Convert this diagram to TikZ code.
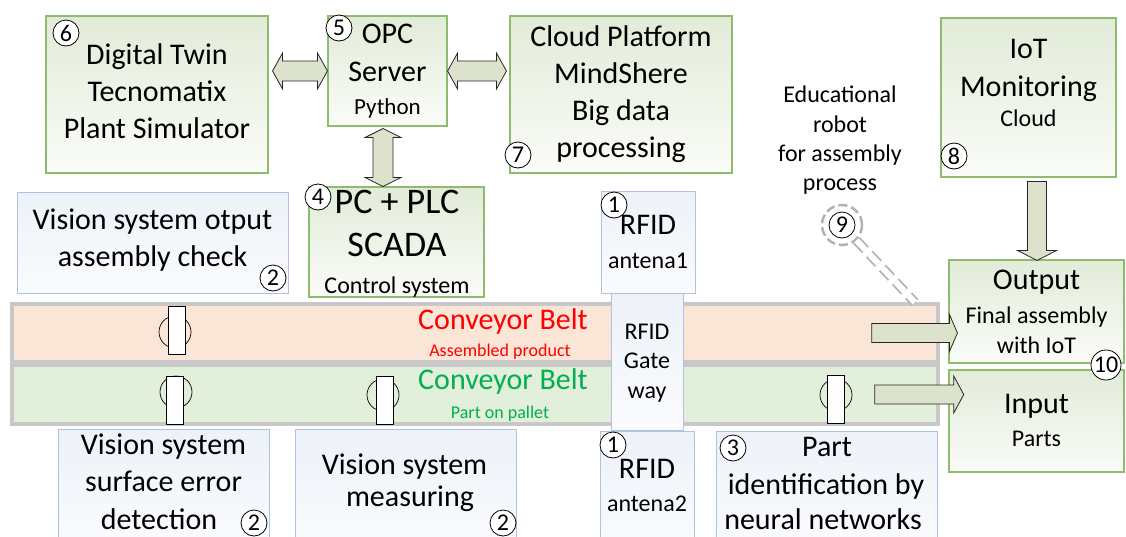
\documentclass[tikz,border=0pt]{standalone}
\usepackage{fontspec}
\setmainfont{Carlito}
\usetikzlibrary{calc}
\definecolor{gborder}{HTML}{8EBC6E}
\definecolor{gtop}{HTML}{E2EBD8}
\definecolor{gbot}{HTML}{FAFCF8}
\definecolor{bborder}{HTML}{AFC3E0}
\definecolor{btop}{HTML}{EDF2F9}
\definecolor{bbot}{HTML}{FAFBFD}
\definecolor{arrfill}{HTML}{DCE2CC}
\definecolor{peach}{HTML}{FBE5D6}
\definecolor{lgreen}{HTML}{E2EFDA}
\definecolor{beltgray}{HTML}{C8C8C8}
\definecolor{cgreen}{HTML}{00B050}
\newcommand{\fatH}[5]{%
  \draw[fat] (#1) -- ($(#1)+(#3,-#4)$) -- ($(#1)+(#3,-#5)$) -- ($(#2)+(-#3,-#5)$) -- ($(#2)+(-#3,-#4)$) -- (#2)
    -- ($(#2)+(-#3,#4)$) -- ($(#2)+(-#3,#5)$) -- ($(#1)+(#3,#5)$) -- ($(#1)+(#3,#4)$) -- cycle;}
\newcommand{\fatV}[5]{%
  \draw[fat] (#1) -- ($(#1)+(-#4,#3)$) -- ($(#1)+(-#5,#3)$) -- ($(#2)+(-#5,-#3)$) -- ($(#2)+(-#4,-#3)$) -- (#2)
    -- ($(#2)+(#4,-#3)$) -- ($(#2)+(#5,-#3)$) -- ($(#1)+(#5,#3)$) -- ($(#1)+(#4,#3)$) -- cycle;}
\newcommand{\fatDown}[5]{%
  \draw[fat] ($(#1)+(-#5,0)$) -- ($(#2)+(-#5,-#3)$) -- ($(#2)+(-#4,-#3)$) -- (#2) -- ($(#2)+(#4,-#3)$)
    -- ($(#2)+(#5,-#3)$) -- ($(#1)+(#5,0)$) -- cycle;}
\newcommand{\fatRight}[5]{%
  \draw[fat] ($(#1)+(0,-#5)$) -- ($(#2)+(-#3,-#5)$) -- ($(#2)+(-#3,-#4)$) -- (#2) -- ($(#2)+(-#3,#4)$)
    -- ($(#2)+(-#3,#5)$) -- ($(#1)+(0,#5)$) -- cycle;}
\tikzset{
  gbox/.style={rectangle, draw=gborder, line width=1.1pt, top color=gtop, bottom color=gbot, inner sep=0pt},
  bbox/.style={rectangle, draw=bborder, line width=1pt, top color=btop, bottom color=bbot, inner sep=0pt},
  belt/.style={rectangle, draw=beltgray, line width=3.5pt, inner sep=0pt},
  ln/.style={inner sep=0pt, text height=1.24em, text depth=0pt, anchor=center},
  fA/.style={ln, font=\fontsize{30}{36}\selectfont},
  fB/.style={ln, font=\fontsize{24}{29}\selectfont},
  fC/.style={ln, font=\fontsize{36}{43}\selectfont},
  fS/.style={ln, font=\fontsize{18}{21}\selectfont},
  num/.style={circle, draw=black, line width=0.8pt, fill=white, inner sep=0pt, minimum size=26pt, font=\fontsize{24}{24}\selectfont},
  sensorbody/.style={rectangle, draw=black, fill=white, line width=0.8pt, minimum width=17pt, minimum height=48pt, inner sep=0pt},
  sensorlens/.style={circle, draw=black, line width=0.7pt, minimum size=32pt, inner sep=0pt},
  fat/.style={draw=black!85, line width=0.8pt, fill=arrfill, line join=miter},
  ring/.style={draw=gray!60, line width=2.5pt, dash pattern=on 9pt off 4pt},
  robotlink/.style={draw=gray!60, line width=1.8pt, double=white, double distance=6pt, dash pattern=on 13pt off 6pt}
}
\begin{document}
\begin{tikzpicture}[x=1pt,y=-1pt]
\useasboundingbox (0,0) rectangle (1126,536);

% conveyor belts
\node[belt, fill=peach, minimum width=926pt, minimum height=58pt] (belt1) at (475,333) {};
\node[belt, fill=lgreen, minimum width=926pt, minimum height=59pt] (belt2) at (475,394.5) {};
\node[fA, text=red] (b1t) at (503,323) {Conveyor Belt};
\node[fS, text=red] (b1s) at (500,350) {Assembled product};
\node[fA, text=cgreen] (b2t) at (503,383) {Conveyor Belt};
\node[fS, text=cgreen] (b2s) at (500,412) {Part on pallet};

% sensors
\node[sensorlens] (l1) at (175,332) {}; \node[sensorbody] (s1) at (176.5,330) {};
\node[sensorlens] (l2) at (176,392) {}; \node[sensorbody] (s2) at (174.5,400) {};
\node[sensorlens] (l3) at (383,395) {}; \node[sensorbody] (s3) at (384.5,400) {};
\node[sensorlens] (l4) at (836,395) {}; \node[sensorbody] (s4) at (836,399) {};

% boxes
\node[gbox, minimum width=222pt, minimum height=157pt] (dt) at (157,94.5) {};
\node[gbox, minimum width=119pt, minimum height=110pt] (opc) at (387.5,71) {};
\node[gbox, minimum width=222pt, minimum height=157pt] (cloud) at (621,94.5) {};
\node[gbox, minimum width=175pt, minimum height=159pt] (iot) at (1028.5,97.5) {};
\node[gbox, minimum width=175pt, minimum height=110pt] (pc) at (396.5,242) {};
\node[bbox, minimum width=271pt, minimum height=101pt] (vout) at (152.5,242.5) {};
\node[bbox, minimum width=94pt, minimum height=102pt] (ant1) at (648,242) {};
\node[bbox, minimum width=72pt, minimum height=137pt] (gate) at (647,361.5) {};
\node[gbox, minimum width=175pt, minimum height=103pt] (out) at (1036.5,311.5) {};
\node[gbox, minimum width=175pt, minimum height=102pt] (inp) at (1036.5,421) {};
\node[bbox, minimum width=211pt, minimum height=120pt] (vsurf) at (163.5,489) {};
\node[bbox, minimum width=221pt, minimum height=120pt] (vmeas) at (405.5,489) {};
\node[bbox, minimum width=94pt, minimum height=118pt] (ant2) at (647,490) {};
\node[bbox, minimum width=221pt, minimum height=118pt] (partid) at (826.5,490) {};

% fat arrows
\coordinate (a1s) at ($(dt.east |- opc.center)+(4,0)$);
\coordinate (a2e) at ($(cloud.west |- opc.center)+(-3,0)$);
\fatH{a1s}{opc.west}{10}{18}{10}
\fatH{opc.east}{a2e}{10}{18}{10}
\coordinate (a3s) at ($(opc.south)+(-4.5,2)$);
\coordinate (a3e) at ($(pc.north)+(-13.5,0)$);
\fatV{a3s}{a3e}{9}{18}{10}
\coordinate (a4s) at ($(iot.south)+(8.5,4)$);
\coordinate (a4e) at ($(out.north)+(0.5,1)$);
\fatDown{a4s}{a4e}{10}{19.5}{9.5}
\coordinate (a5s) at ($(belt1.east)+(-68,0)$);
\coordinate (a5e) at ($(out.west |- belt1.east)+(9,0)$);
\fatRight{a5s}{a5e}{8}{18.5}{9.5}
\coordinate (a6s) at ($(belt2.east)+(-65,0)$);
\coordinate (a6e) at ($(belt2.east)+(24,0)$);
\fatRight{a6s}{a6e}{10}{18.5}{9.5}

% texts
\node[fA] (dt1) at (157,58) {Digital Twin};
\node[fA] (dt2) at (157,95) {Tecnomatix};
\node[fA] (dt3) at (157,132) {Plant Simulator};
\node[fA] (opc1) at (387.5,37) {OPC};
\node[fA] (opc2) at (387.5,75) {Server};
\node[ln, font=\fontsize{23}{28}\selectfont] (opc3) at (387.5,108) {Python};
\node[fA] (cl1) at (621,40) {Cloud Platform};
\node[fA] (cl2) at (621,77) {MindShere};
\node[fA] (cl3) at (621,114) {Big data};
\node[fA] (cl4) at (621,151) {processing};
\node[fB] (ed1) at (840,96) {Educational};
\node[fB] (ed2) at (840,126) {robot};
\node[fB] (ed3) at (840,155) {for assembly};
\node[fB] (ed4) at (840,184) {process};
\node[fA] (iot1) at (1028.5,52) {IoT};
\node[fA] (iot2) at (1028.5,90) {Monitoring};
\node[fB] (iot3) at (1028.5,120) {Cloud};
\node[fA] (vo1) at (152.5,223) {Vision system otput};
\node[fA] (vo2) at (152.5,260) {assembly check};
\node[fC] (pc1) at (397,207) {PC + PLC};
\node[fC] (pc2) at (397,250) {SCADA};
\node[fB] (pc3) at (397,287) {Control system};
\node[fA] (an1a) at (648,228) {RFID};
\node[fB] (an1b) at (648,262) {antena1};
\node[fB] (gw1) at (647,333) {RFID};
\node[fB] (gw2) at (647,362) {Gate};
\node[fB] (gw3) at (647,392) {way};
\node[fA] (ou1) at (1036.5,283) {Output};
\node[fB] (ou2) at (1036.5,317) {Final assembly};
\node[fB] (ou3) at (1036.5,347) {with IoT};
\node[fA] (in1) at (1036.5,407) {Input};
\node[fB] (in2) at (1036.5,440) {Parts};
\node[fA] (vs1) at (163.5,448) {Vision system};
\node[fA] (vs2) at (163.5,485) {surface error};
\node[fA] (vs3) at (159,523) {detection};
\node[fA] (vm1) at (404.5,468) {Vision system};
\node[fA] (vm2) at (410,500) {measuring};
\node[fA] (an2a) at (647,472) {RFID};
\node[fB] (an2b) at (647,505) {antena2};
\node[fA] (pi1) at (827,450) {Part};
\node[fA] (pi2) at (826,488) {identification by};
\node[fA] (pi3) at (823,523) {neural networks};

% number circles
\node[num] (n6) at (66,33) {6};
\node[num] (n5) at (339,28) {5};
\node[num] (n7) at (518,155) {7};
\node[num] (n8) at (954,156) {8};
\node[num] (n4) at (318,197) {4};
\node[num] (n2a) at (273,278) {2};
\node[num] (n1a) at (614,205) {1};
\node[num] (n9) at (842,225) {9};
\node[num, minimum size=30pt] (n10) at (1106,365) {10};
\node[num] (n2b) at (254,523) {2};
\node[num] (n2c) at (503,523) {2};
\node[num] (n1b) at (613,445) {1};
\node[num] (n3) at (733,448) {3};

% robot marker and link
\draw[ring] (n9.center) circle (20pt);
\coordinate (rb) at ($(belt1.north east)+(-25,0)$);
\draw[robotlink] ($(n9.center)!21pt!(rb)$) -- (rb);
\end{tikzpicture}
\end{document}
